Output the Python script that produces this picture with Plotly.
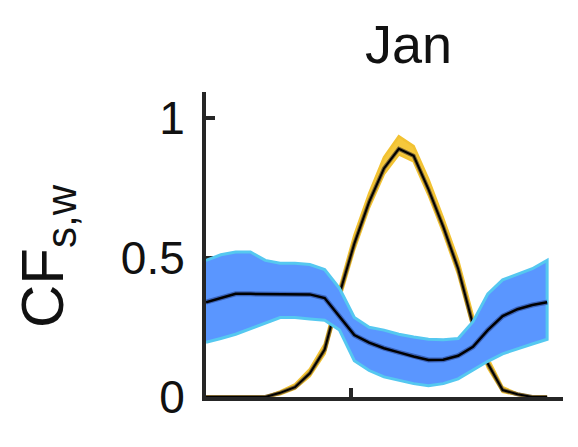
import plotly.graph_objects as go

# Hour of day
hours = list(range(24))

# Solar capacity factor (mean and band)
solar_mean = [0, 0, 0, 0, 0, 0.015, 0.035, 0.085, 0.17, 0.37, 0.55, 0.70,
              0.82, 0.89, 0.865, 0.745, 0.61, 0.46, 0.26, 0.12, 0.025, 0.01, 0, 0]
solar_upper = [0, 0, 0, 0, 0, 0.02, 0.045, 0.1, 0.19, 0.39, 0.58, 0.73,
               0.86, 0.935, 0.9, 0.78, 0.64, 0.49, 0.29, 0.14, 0.035, 0.012, 0, 0]
solar_lower = [0, 0, 0, 0, 0, 0.01, 0.03, 0.075, 0.155, 0.35, 0.53, 0.68,
               0.80, 0.87, 0.845, 0.725, 0.59, 0.44, 0.245, 0.105, 0.018, 0.008, 0, 0]

# Wind capacity factor (mean and band)
wind_mean = [0.34, 0.355, 0.37, 0.37, 0.37, 0.37, 0.37, 0.368, 0.355, 0.29, 0.222, 0.195,
             0.175, 0.16, 0.145, 0.133, 0.134, 0.148, 0.18, 0.24, 0.29, 0.315, 0.33, 0.34]
wind_upper = [0.49, 0.51, 0.52, 0.52, 0.49, 0.48, 0.48, 0.475, 0.457, 0.39, 0.285, 0.25,
              0.24, 0.225, 0.215, 0.207, 0.205, 0.21, 0.27, 0.37, 0.42, 0.44, 0.46, 0.49]
wind_lower = [0.196, 0.21, 0.225, 0.245, 0.265, 0.285, 0.285, 0.28, 0.275, 0.24, 0.13, 0.095,
              0.072, 0.06, 0.048, 0.04, 0.048, 0.065, 0.095, 0.128, 0.155, 0.172, 0.19, 0.207]

y_ticks = [0, 0.5, 1]
y_tick_labels = ["0", "0.5", "1"]
x_ticks = [9.8]
title_text = "Jan"
ylabel_text = "CF<sub>s,w</sub>"

# The page adds an 8px body margin, so the figure is 8px smaller and
# positions below are given in page pixels minus that offset.
OFF = 8
W, H = 578 - OFF, 447 - OFF
L, R, T, B = 206 - OFF, 15, 92 - OFF, 50
PW, PH = W - L - R, H - T - B


def px_to_paper_x(px):
    return (px - OFF - L) / PW


def py_to_paper_y(py):
    return (H - B - (py - OFF)) / PH


fig = go.Figure()

# Solar band
fig.add_trace(go.Scatter(
    x=hours + hours[::-1], y=solar_upper + solar_lower[::-1],
    fill="toself", fillcolor="#F5C83C", mode="lines",
    line=dict(color="#F2C232", width=2.5), hoverinfo="skip", showlegend=False))
fig.add_trace(go.Scatter(x=hours, y=solar_mean, mode="lines",
                         line=dict(color="#7A6432", width=4), showlegend=False))
fig.add_trace(go.Scatter(x=hours, y=solar_mean, mode="lines",
                         line=dict(color="#000000", width=2), showlegend=False))

# Wind band
fig.add_trace(go.Scatter(
    x=hours + hours[::-1], y=wind_upper + wind_lower[::-1],
    fill="toself", fillcolor="#5A96FF", mode="lines",
    line=dict(color="#55C8F0", width=3), hoverinfo="skip", showlegend=False))
fig.add_trace(go.Scatter(x=hours, y=wind_mean, mode="lines",
                         line=dict(color="#3A62B8", width=5), showlegend=False))
fig.add_trace(go.Scatter(x=hours, y=wind_mean, mode="lines",
                         line=dict(color="#000000", width=2.5), showlegend=False))

axis_color = "#262626"
fig.update_xaxes(range=[0, 24.07], showline=True, linecolor=axis_color, linewidth=4,
                 ticks="inside", tickvals=x_ticks, showticklabels=False,
                 ticklen=9, tickwidth=4, tickcolor=axis_color,
                 showgrid=False, zeroline=False, layer="below traces", fixedrange=True)
fig.update_yaxes(range=[0, 1.094], showline=True, linecolor=axis_color, linewidth=4,
                 ticks="inside", tickvals=y_ticks, ticktext=y_tick_labels,
                 ticklen=9, tickwidth=4, tickcolor=axis_color, ticklabelstandoff=8,
                 tickfont=dict(family="Liberation Sans, Arial", size=46, color="#111111"),
                 showgrid=False, zeroline=False, layer="below traces", fixedrange=True)

fig.add_annotation(text=title_text, xref="paper", yref="paper",
                   x=px_to_paper_x(408), y=py_to_paper_y(44),
                   xanchor="center", yanchor="middle", showarrow=False,
                   font=dict(family="Liberation Sans, Arial", size=54, color="#111111"))
fig.add_annotation(text=ylabel_text, xref="paper", yref="paper",
                   x=px_to_paper_x(47), y=py_to_paper_y(256),
                   xanchor="center", yanchor="middle", showarrow=False, textangle=-90,
                   font=dict(family="Liberation Sans, Arial", size=60, color="#111111"))

fig.update_layout(width=W, height=H, margin=dict(l=L, r=R, t=T, b=B, autoexpand=False),
                  paper_bgcolor="white", plot_bgcolor="white", showlegend=False)

fig.write_html("out.html")
